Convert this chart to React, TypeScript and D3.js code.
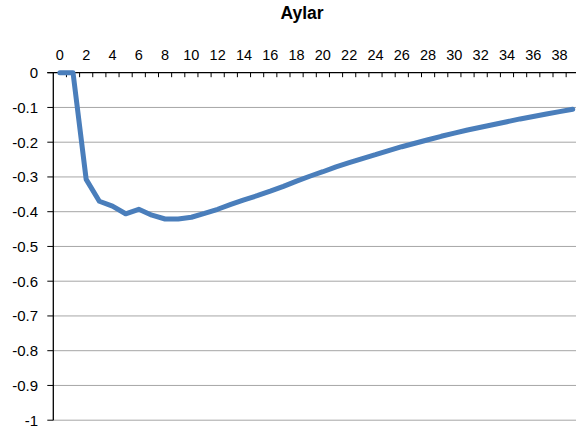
import React from "react";
import * as d3 from "d3";

const title = "Aylar";
const months = d3.range(0, 40);
const values = [
  0, 0, -0.307, -0.37, -0.384, -0.406, -0.393, -0.41, -0.421, -0.421,
  -0.416, -0.405, -0.393, -0.379, -0.366, -0.354, -0.341, -0.327, -0.312, -0.298,
  -0.285, -0.271, -0.259, -0.247, -0.236, -0.224, -0.213, -0.203, -0.193, -0.183,
  -0.174, -0.165, -0.157, -0.149, -0.141, -0.133, -0.126, -0.119, -0.112, -0.105,
];
const yTicks = [0, -0.1, -0.2, -0.3, -0.4, -0.5, -0.6, -0.7, -0.8, -0.9, -1];

export default function App() {
  const W = 576, H = 435;
  const left = 53.3, top = 72.7, bottom = 420.2;
  const step = 13.15;
  const x = d3.scaleBand<number>().domain(months).range([left, left + step * months.length]).padding(0);
  const y = d3.scaleLinear().domain([0, -1]).range([top, bottom]);
  const cx = (m: number) => (x(m) as number) + x.bandwidth() / 2;
  const line = d3.line<number>().x((_, i) => cx(months[i])).y((v) => y(v));
  const font = "'Liberation Sans', Arial, sans-serif";
  const right = left + step * months.length;
  return (
    <svg width={W} height={H} style={{ position: "absolute", left: 0, top: 0, background: "#fff" }}>
      <text x={302} y={18.5} textAnchor="middle" fontFamily={font} fontWeight="bold" fontSize={17.5} fill="#000">{title}</text>
      {yTicks.slice(1).map((t) => (
        <line key={"g" + t} x1={left} x2={right} y1={y(t)} y2={y(t)} stroke="#a6a6a6" strokeWidth={1} />
      ))}
      {yTicks.map((t) => (
        <g key={"yt" + t}>
          <line x1={left - 6} x2={left} y1={y(t)} y2={y(t)} stroke="#000" strokeWidth={1} />
          <text x={38} y={y(t)} dy="0.36em" textAnchor="end" fontFamily={font} fontSize={15} fill="#000">{String(t)}</text>
        </g>
      ))}
      <line x1={left} x2={left} y1={top} y2={bottom} stroke="#000" strokeWidth={1.3} />
      <line x1={left - 6} x2={right} y1={top} y2={top} stroke="#000" strokeWidth={1.3} />
      {months.map((m) => (
        <line key={"xt" + m} x1={(x(m) as number) + step} x2={(x(m) as number) + step} y1={top} y2={top + 4.5} stroke="#000" strokeWidth={1} />
      ))}
      {months.filter((m) => m % 2 === 0).map((m) => (
        <text key={"xl" + m} x={cx(m)} y={60} textAnchor="middle" fontFamily={font} fontSize={14.5} fill="#000">{m}</text>
      ))}
      <path d={line(values) || ""} fill="none" stroke="#4a7ebb" strokeWidth={5} strokeLinejoin="round" strokeLinecap="round" />
    </svg>
  );
}
